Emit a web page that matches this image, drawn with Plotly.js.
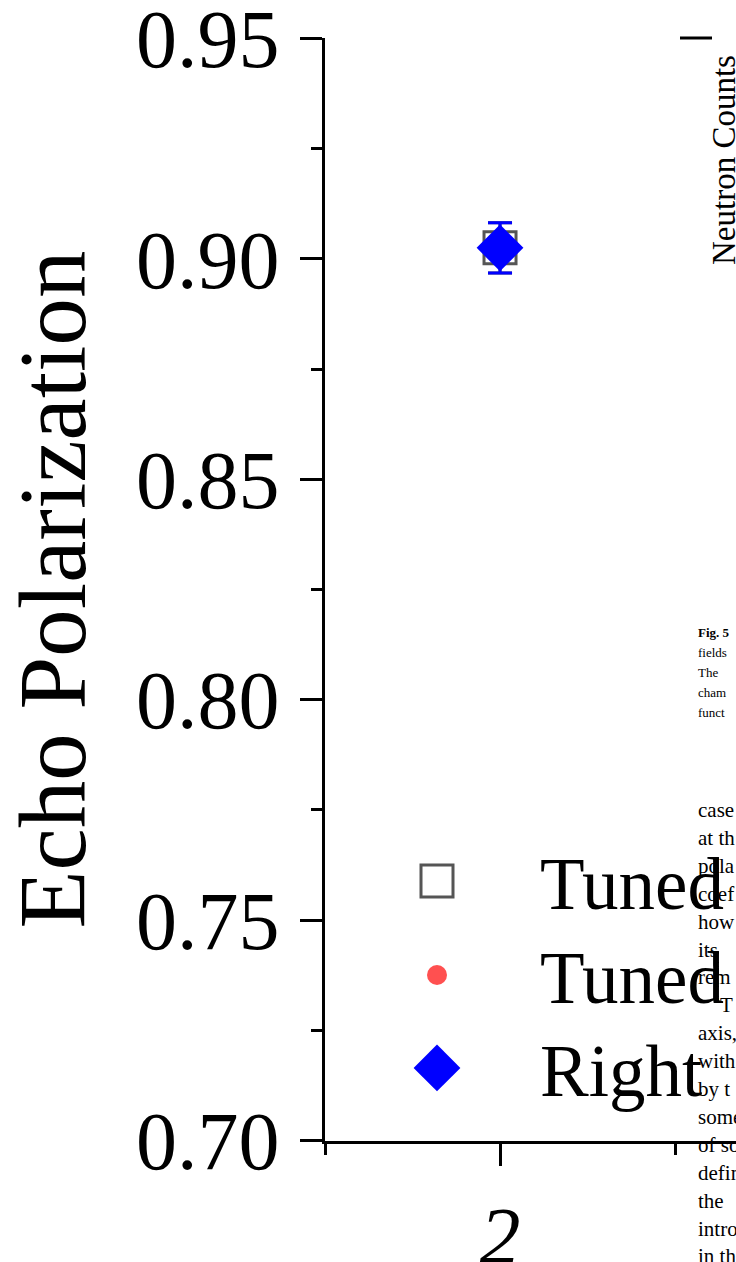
<!DOCTYPE html>
<html><head><meta charset="utf-8">
<script src="https://cdn.plot.ly/plotly-3.0.1.min.js"></script>
<style>html,body{margin:0;padding:0;background:#fff;overflow:hidden}</style>
</head><body><div id="chart" style="width:736px;height:1262px"></div>
<script>
// ---- data ----
const xValues = [2];
const tunedSquare = [0.9025];
const tunedSquareErr = [0.0057];
const tunedCircle = [0.9025];
const rightDiamond = [0.9025];
const rightDiamondErr = [0.0057];
const seriesNames = ['Tuned', 'Tuned', 'Right'];
const yTickVals = [0.70, 0.75, 0.80, 0.85, 0.90, 0.95];
const yTickText = ['0.70', '0.75', '0.80', '0.85', '0.90', '0.95'];
const xTickVals = [2];
const xTickText = ['2'];
const yTitle = 'Echo Polarization';
const sideLabel = 'Neutron Counts';
const captionLines = ['<b>Fig. 5</b>', 'fields', 'The', 'cham', 'funct'];
const bodyLines = ['case', 'at th', 'pola', 'coef', 'how', 'its', 'rem', '', 'axis,', 'with', 'by t', 'some', 'of so', 'defin', 'the', 'intro', 'in th'];

// ---- geometry helpers (pixels -> paper) ----
const L = 325, T = 38, R = 736, B = 1141;
const px = x => (x - L) / (R - L);
const py = y => (B - y) / (B - T);

const grey = 'rgb(85,85,85)', red = 'rgb(255,80,80)', blue = 'rgb(0,0,255)';
const serif = 'Liberation Serif, serif';

const data = [
  {x: xValues, y: tunedSquare, name: seriesNames[0], type: 'scatter', mode: 'markers', legend: 'legend',
   marker: {symbol: 'square-open', size: 32, color: grey, line: {width: 3, color: grey}},
   error_y: {type: 'data', array: tunedSquareErr, color: grey, thickness: 3, width: 12}},
  {x: xValues, y: tunedCircle, name: seriesNames[1], type: 'scatter', mode: 'markers', legend: 'legend2',
   marker: {symbol: 'circle', size: 20, color: red}},
  {x: xValues, y: rightDiamond, name: seriesNames[2], type: 'scatter', mode: 'markers', legend: 'legend3',
   marker: {symbol: 'diamond', size: 36, color: blue},
   error_y: {type: 'data', array: rightDiamondErr, color: blue, thickness: 3, width: 12}}
];

const legendBase = (y) => ({
  x: px(334), y: py(y), xanchor: 'left', yanchor: 'middle',
  font: {size: 73, family: serif, color: '#000'},
  itemwidth: 196, bgcolor: 'rgba(0,0,0,0)', borderwidth: 0
});

const annotations = [];
annotations.push({x: px(724), y: py(160), xref: 'paper', yref: 'paper', text: sideLabel, textangle: -90,
  showarrow: false, xanchor: 'center', yanchor: 'middle', font: {size: 33, family: serif, color: '#000'}});
captionLines.forEach((t, i) => annotations.push({x: px(696), y: py(632 + i * 20), xref: 'paper', yref: 'paper', text: t,
  showarrow: false, xanchor: 'left', yanchor: 'middle', font: {size: 13, family: serif, color: '#000'}}));
bodyLines.forEach((t, i) => { if (t) annotations.push({x: px(696), y: py(810 + i * 27.9), xref: 'paper', yref: 'paper', text: t,
  showarrow: false, xanchor: 'left', yanchor: 'middle', font: {size: 21, family: serif, color: '#000'}}); });
annotations.push({x: px(718), y: py(810 + 7 * 27.9), xref: 'paper', yref: 'paper', text: 'T',
  showarrow: false, xanchor: 'left', yanchor: 'middle', font: {size: 21, family: serif, color: '#000'}});

const layout = {
  width: 736, height: 1262,
  margin: {l: L, r: 0, t: T, b: 1262 - B, autoexpand: false},
  paper_bgcolor: '#fff', plot_bgcolor: '#fff',
  font: {family: serif, color: '#000'},
  showlegend: true,
  legend: legendBase(881), legend2: legendBase(975), legend3: legendBase(1068),
  xaxis: {range: [1.4999, 2.6743], tickmode: 'array', tickvals: xTickVals, ticktext: xTickText,
    ticks: 'outside', ticklen: 22, tickwidth: 3, tickcolor: '#000', showline: true, linewidth: 3, linecolor: '#000',
    showgrid: false, zeroline: false, ticklabelstandoff: 0, ticklabeloverflow: 'allow',
    tickfont: {size: 82, style: 'italic', family: serif, color: '#000'},
    minor: {dtick: 0.5, tick0: 0, ticks: 'outside', ticklen: 11, tickwidth: 3, tickcolor: '#000', showgrid: false}},
  yaxis: {range: [0.6999, 0.9501], tickmode: 'array', tickvals: yTickVals, ticktext: yTickText,
    ticks: 'outside', ticklen: 22, tickwidth: 3, tickcolor: '#000', showline: true, linewidth: 3, linecolor: '#000',
    showgrid: false, zeroline: false, ticklabelstandoff: 4, ticklabeloverflow: 'allow',
    tickfont: {size: 82, family: serif, color: '#000'},
    minor: {dtick: 0.025, tick0: 0, ticks: 'outside', ticklen: 11, tickwidth: 3, tickcolor: '#000', showgrid: false},
    title: {text: yTitle, font: {size: 95, family: serif, color: '#000'}, standoff: 56},
    automargin: true},
  annotations: annotations,
  shapes: [{type: 'line', xref: 'paper', yref: 'paper', x0: px(680), x1: px(712), y0: 1, y1: 1,
    line: {color: '#000', width: 3}}]
};

Plotly.newPlot('chart', data, layout, {staticPlot: true, displayModeBar: false}).then(gd => {
  // enlarge legend symbols (Plotly caps them at 16px) to match the plotted marker sizes
  gd.querySelectorAll('g.traces').forEach(g => {
    const d = g.__data__;
    if (!d || !d[0] || !d[0].trace) return;
    const tr = d[0].trace;
    const s = Math.max(1, (tr.marker && tr.marker.size ? tr.marker.size : 16) / 16);
    g.querySelectorAll('.legendpoints path.scatterpts').forEach(p => {
      const t = p.getAttribute('transform') || '';
      p.setAttribute('transform', t + ' scale(' + s + ')');
      p.style.vectorEffect = 'non-scaling-stroke';
    });
  });
});
</script></body></html>
